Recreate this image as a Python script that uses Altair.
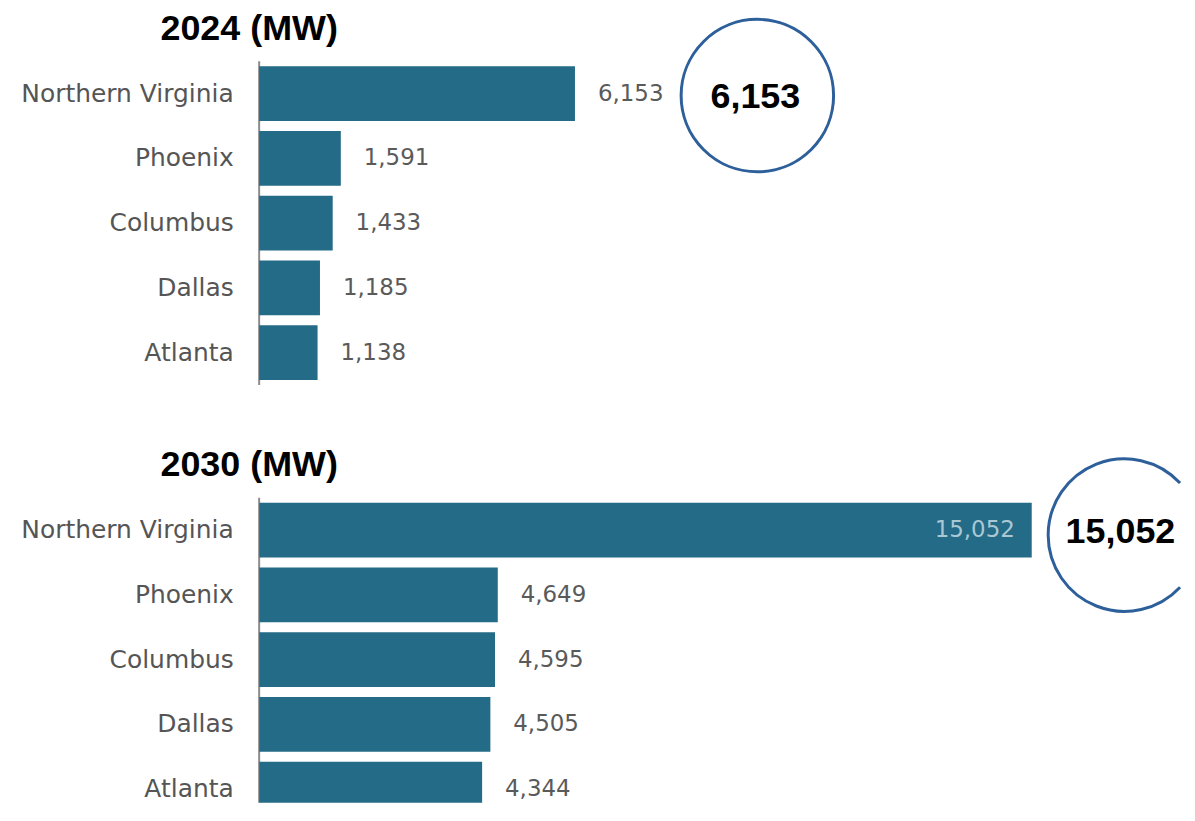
import altair as alt
import pandas as pd

cities = ["Northern Virginia", "Phoenix", "Columbus", "Dallas", "Atlanta"]
mw_2024 = [6153, 1591, 1433, 1185, 1138]
mw_2030 = [15052, 4649, 4595, 4505, 4344]

BAR = "#236b86"
AXIS_GREY = "#8c8c8c"
LABEL_FONT = "DejaVu Sans"
BOLD_FONT = "Liberation Sans"
X_DOMAIN = [0, 17980]
W = 926
H = 325
RING = "#2d5f9a"
# ring cut by the right page edge (unit-circle path, open on the right)
CUT_RING = "M 0.73 -0.683 A 1 1 0 1 0 0.73 0.683"


def panel(year, values, circle_dx, circle_dy, text_dx, text_dy, ring_shape, visible_h, title_offset):
    df = pd.DataFrame({"city": cities, "mw": values})
    clipped = visible_h < H
    base = alt.Chart(df).encode(
        y=alt.Y(
            "city:N",
            sort=cities,
            title=None,
            scale=alt.Scale(paddingInner=0.154, paddingOuter=0.077, range=[0, H]),
            axis=alt.Axis(
                labelFont=LABEL_FONT,
                labelFontSize=25,
                labelColor="#555555",
                labelPadding=26,
                labelLimit=400,
                ticks=False,
                domain=False,
                grid=False,
            ),
        ),
        x=alt.X("mw:Q", scale=alt.Scale(domain=X_DOMAIN, nice=False, zero=True), axis=None),
    )
    with_max = base.transform_joinaggregate(maxmw="max(mw)")
    bars = base.mark_bar(color=BAR, clip=clipped)
    axis_line = alt.Chart(df).transform_aggregate(n="count()").mark_rule(
        color=AXIS_GREY, strokeWidth=2
    ).encode(x=alt.value(0), y=alt.value(0), y2=alt.value(visible_h))
    outside = with_max.transform_filter("datum.mw < 10000").mark_text(
        align="left", baseline="middle", dx=23, font=LABEL_FONT, fontSize=23, color="#5a5a5a"
    ).encode(text=alt.Text("mw:Q", format=","))
    inside = with_max.transform_filter("datum.mw >= 10000").mark_text(
        align="right", baseline="middle", dx=-17, font=LABEL_FONT, fontSize=23, color="#a9c8d4"
    ).encode(text=alt.Text("mw:Q", format=","))
    top = with_max.transform_filter("datum.mw == datum.maxmw")
    circle = top.mark_point(
        shape=ring_shape, size=23400, filled=False, stroke=RING, strokeWidth=3,
        opacity=1, xOffset=circle_dx, yOffset=circle_dy
    )
    big = top.mark_text(
        align="center", baseline="middle", font=BOLD_FONT, fontSize=36, fontWeight="bold",
        color="#000000", dx=circle_dx + text_dx, dy=circle_dy + text_dy
    ).encode(text=alt.Text("mw:Q", format=","))
    return alt.layer(axis_line, bars, outside, inside, circle, big).properties(
        width=W,
        height=visible_h,
        title=alt.TitleParams(
            f"{year} (MW)", anchor="start", frame="group", dx=-99, fontSize=36,
            font=BOLD_FONT, fontWeight="bold", color="#000000", offset=title_offset
        ),
    )


chart = alt.vconcat(
    panel(2024, mw_2024, 183, 2, -2, 1, "circle", H, -35),
    panel(2030, mw_2030, 93, 5, -4, -3, CUT_RING, 306, -31),
    spacing=61,
).properties(padding={"left": 12, "top": 2, "right": 0, "bottom": 0}).configure_view(stroke=None)

chart.save("out.html", embed_options={"renderer": "svg", "actions": False})
